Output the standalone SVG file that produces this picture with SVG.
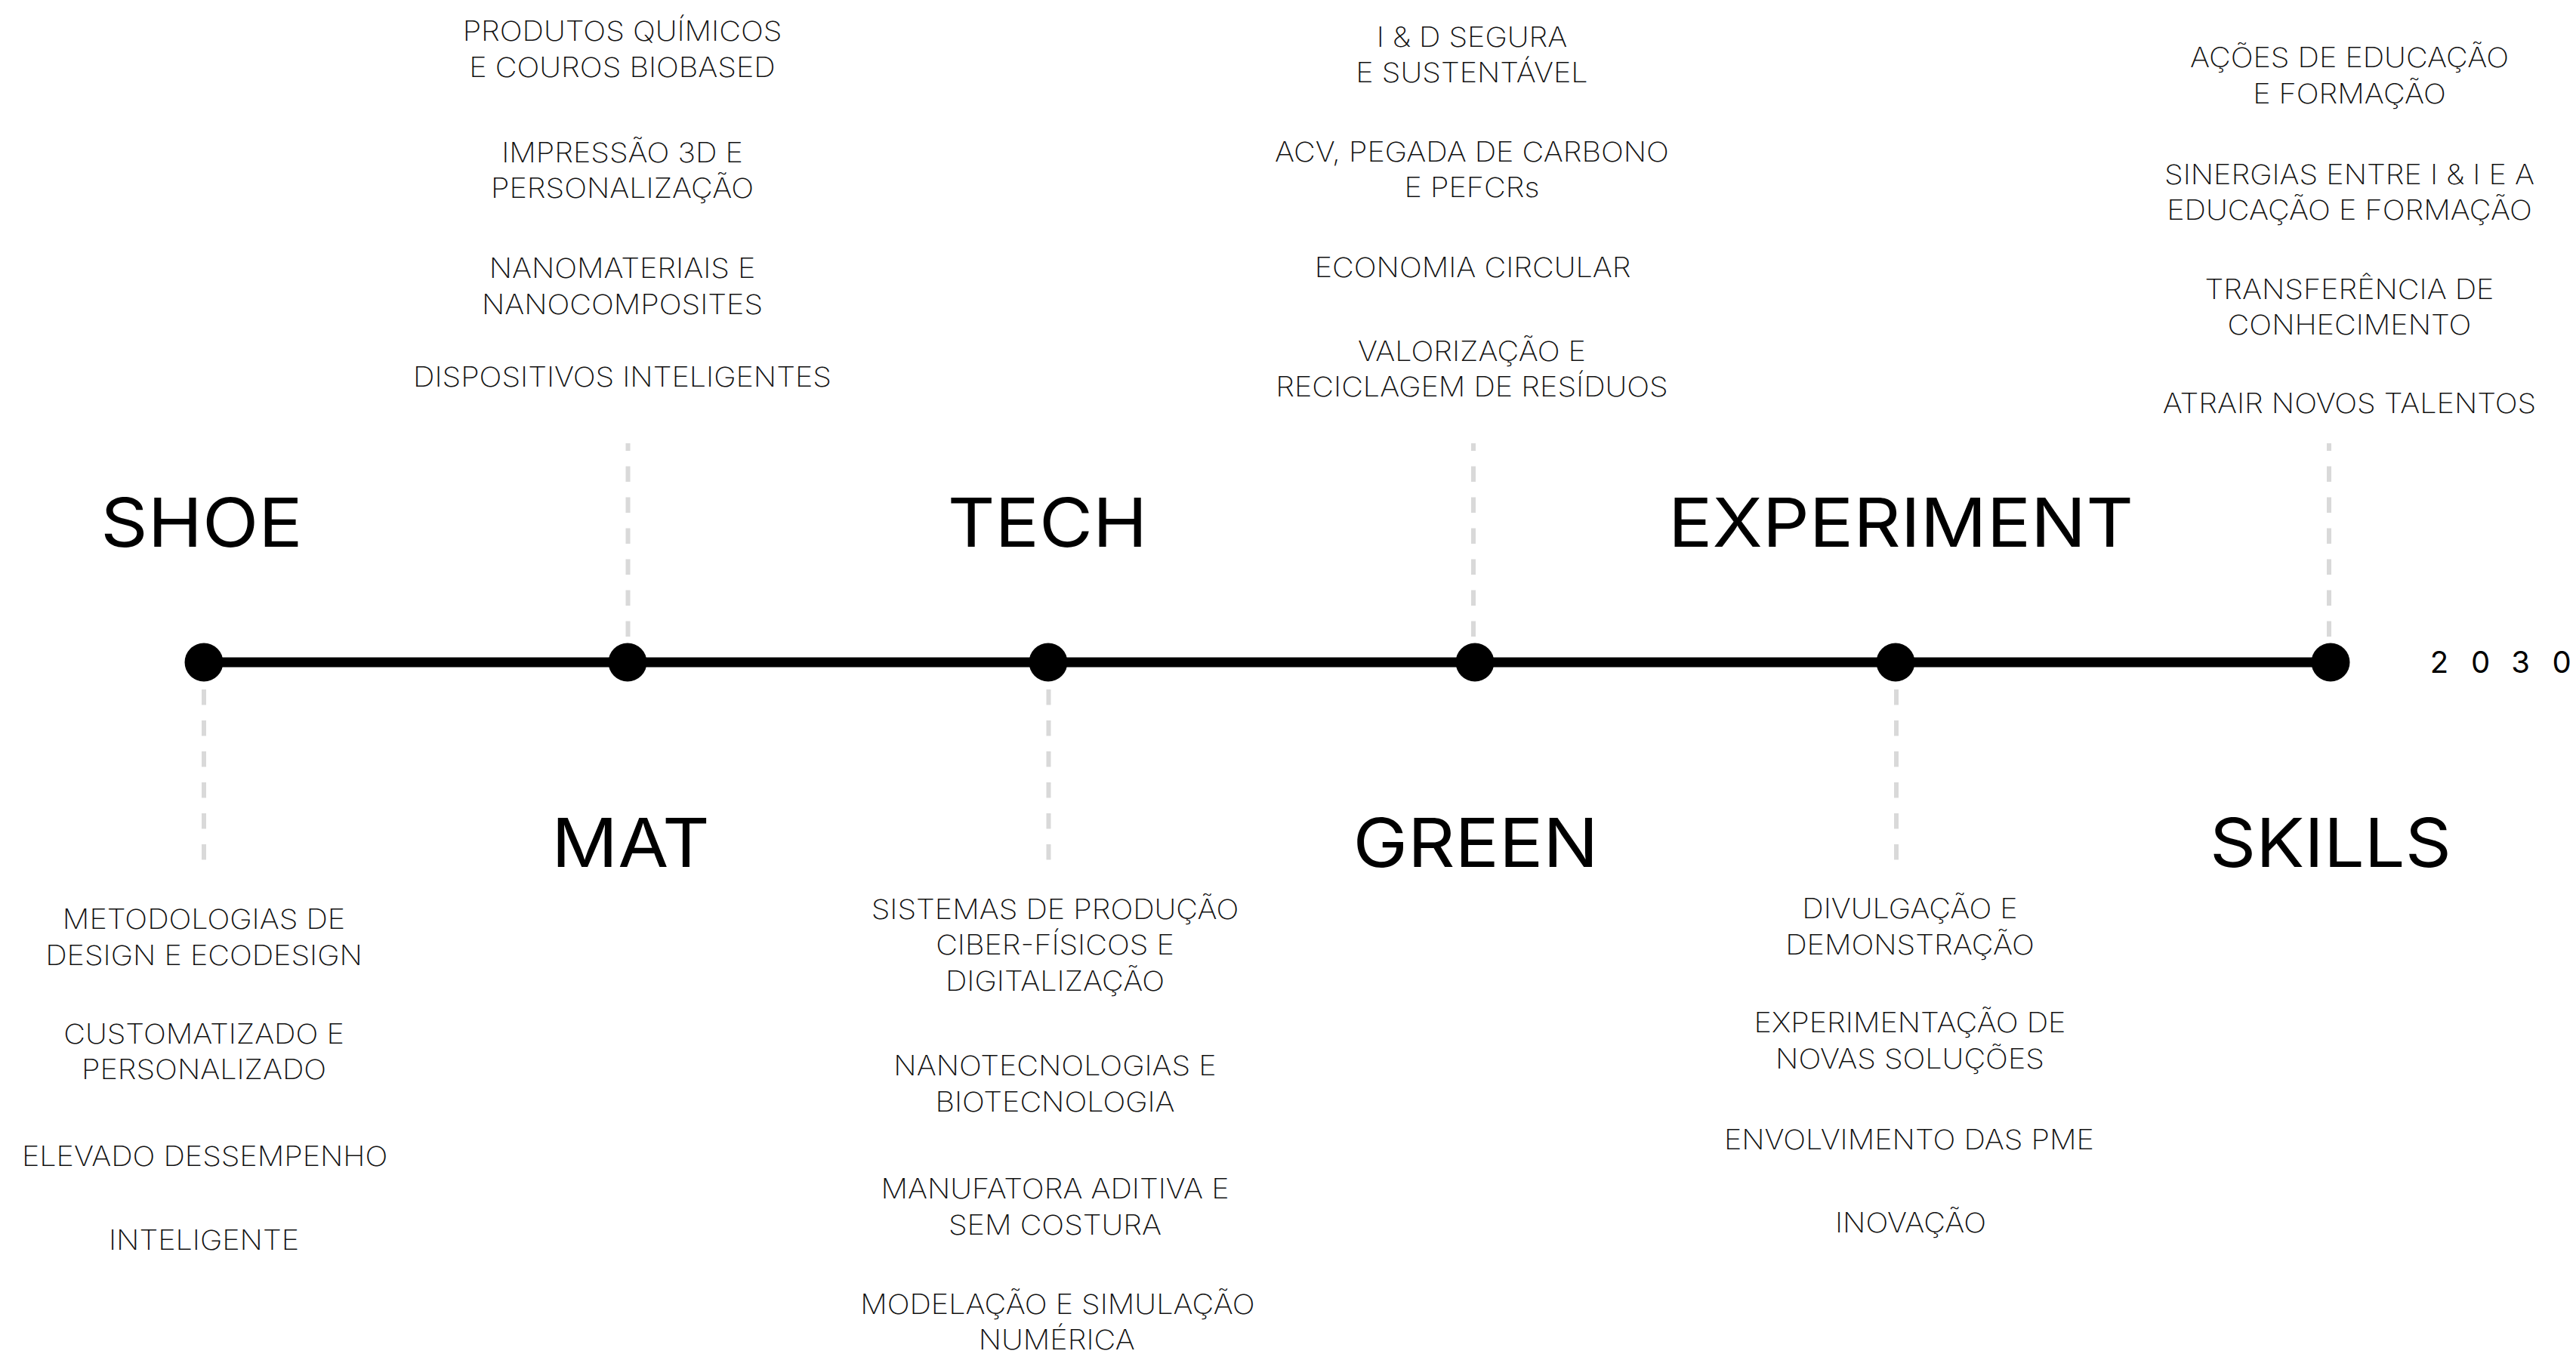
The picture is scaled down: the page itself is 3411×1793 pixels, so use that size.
<svg xmlns="http://www.w3.org/2000/svg" width="3411" height="1793" viewBox="0 0 3411 1793">
<style>
.t{font-family:Inter,"Open Sans","Liberation Sans",sans-serif;font-weight:250;font-size:36px;fill:#111;text-anchor:middle}
.h{font-family:Inter,"Open Sans","Liberation Sans",sans-serif;font-weight:400;font-size:90px;fill:#000;text-anchor:middle}
.y{font-family:Inter,"Open Sans","Liberation Sans",sans-serif;font-weight:400;font-size:40px;fill:#000;text-anchor:middle}
.dash{stroke:#d9d9d9;stroke-width:6;stroke-dasharray:20.5 20.5;fill:none}
.dot{fill:#000}
</style>
<rect width="3411" height="1793" fill="#fff"/>
<g id="connectors">
<line x1="270" y1="877" x2="3086" y2="877" stroke="#000" stroke-width="13"/>
</g>
<g id="shoe">
<path class="dash" d="M270 913 V1139"/>
<circle class="dot" cx="270" cy="877" r="25.5"/>
<text class="h" transform="translate(267 0) scale(1.08 1)" y="724">SHOE</text>
<g transform="translate(270 0) scale(1.1 1)">
<text class="t" y="1230">METODOLOGIAS DE</text>
<text class="t" y="1278">DESIGN E ECODESIGN</text>
<text class="t" y="1382">CUSTOMATIZADO E</text>
<text class="t" y="1429">PERSONALIZADO</text>
<text class="t" x="1" y="1544">ELEVADO DESSEMPENHO</text>
<text class="t" y="1655">INTELIGENTE</text>
</g>
</g>
<g id="mat">
<path class="dash" d="M831.5 843 V587"/>
<circle class="dot" cx="831" cy="877" r="25.5"/>
<text class="h" transform="translate(835 0) scale(1.08 1)" y="1148">MAT</text>
<g transform="translate(824 0) scale(1.1 1)">
<text class="t" y="54">PRODUTOS QUÍMICOS</text>
<text class="t" y="102">E COUROS BIOBASED</text>
<text class="t" y="215">IMPRESSÃO 3D E</text>
<text class="t" y="262">PERSONALIZAÇÃO</text>
<text class="t" y="368">NANOMATERIAIS E</text>
<text class="t" y="416">NANOCOMPOSITES</text>
<text class="t" y="512">DISPOSITIVOS INTELIGENTES</text>
</g>
</g>
<g id="tech">
<path class="dash" d="M1388.5 913 V1139"/>
<circle class="dot" cx="1388" cy="877" r="25.5"/>
<text class="h" transform="translate(1387 0) scale(1.08 1)" y="724">TECH</text>
<g transform="translate(1397 0) scale(1.1 1)">
<text class="t" y="1217">SISTEMAS DE PRODUÇÃO</text>
<text class="t" y="1264">CIBER-FÍSICOS E</text>
<text class="t" y="1312">DIGITALIZAÇÃO</text>
<text class="t" y="1424">NANOTECNOLOGIAS E</text>
<text class="t" y="1472">BIOTECNOLOGIA</text>
<text class="t" y="1587">MANUFATORA ADITIVA E</text>
<text class="t" y="1635">SEM COSTURA</text>
<text class="t" x="3" y="1740">MODELAÇÃO E SIMULAÇÃO</text>
<text class="t" x="2" y="1787">NUMÉRICA</text>
</g>
</g>
<g id="green">
<path class="dash" d="M1951 843 V587"/>
<circle class="dot" cx="1953" cy="877" r="25.5"/>
<text class="h" transform="translate(1954 0) scale(1.08 1)" y="1148">GREEN</text>
<g transform="translate(1949 0) scale(1.1 1)">
<text class="t" y="62">I &amp; D SEGURA</text>
<text class="t" y="109">E SUSTENTÁVEL</text>
<text class="t" y="214">ACV, PEGADA DE CARBONO</text>
<text class="t" y="261">E PEFCRs</text>
<text class="t" x="1" y="367">ECONOMIA CIRCULAR</text>
<text class="t" y="478">VALORIZAÇÃO E</text>
<text class="t" y="525">RECICLAGEM DE RESÍDUOS</text>
</g>
</g>
<g id="experiment">
<path class="dash" d="M2511 913 V1139"/>
<circle class="dot" cx="2510" cy="877" r="25.5"/>
<text class="h" transform="translate(2517 0) scale(1.08 1)" y="724">EXPERIMENT</text>
<g transform="translate(2529 0) scale(1.1 1)">
<text class="t" y="1216">DIVULGAÇÃO E</text>
<text class="t" y="1264">DEMONSTRAÇÃO</text>
<text class="t" y="1367">EXPERIMENTAÇÃO DE</text>
<text class="t" y="1415">NOVAS SOLUÇÕES</text>
<text class="t" x="-1" y="1522">ENVOLVIMENTO DAS PME</text>
<text class="t" x="1" y="1632">INOVAÇÃO</text>
</g>
</g>
<g id="skills">
<path class="dash" d="M3084 843 V587"/>
<circle class="dot" cx="3086" cy="877" r="25.5"/>
<text class="h" transform="translate(3086 0) scale(1.06 1)" y="1148">SKILLS</text>
<g transform="translate(3111 0) scale(1.1 1)">
<text class="t" y="89">AÇÕES DE EDUCAÇÃO</text>
<text class="t" y="137">E FORMAÇÃO</text>
<text class="t" y="244">SINERGIAS ENTRE I &amp; I  E A</text>
<text class="t" y="291">EDUCAÇÃO E FORMAÇÃO</text>
<text class="t" y="396">TRANSFERÊNCIA DE</text>
<text class="t" y="443">CONHECIMENTO</text>
<text class="t" y="547">ATRAIR NOVOS TALENTOS</text>
</g>
</g>
<g id="year">
<text class="y" x="3230" y="891">2</text>
<text class="y" x="3284.5" y="891">0</text>
<text class="y" x="3337.5" y="891">3</text>
<text class="y" x="3392" y="891">0</text>
</g>
</svg>
